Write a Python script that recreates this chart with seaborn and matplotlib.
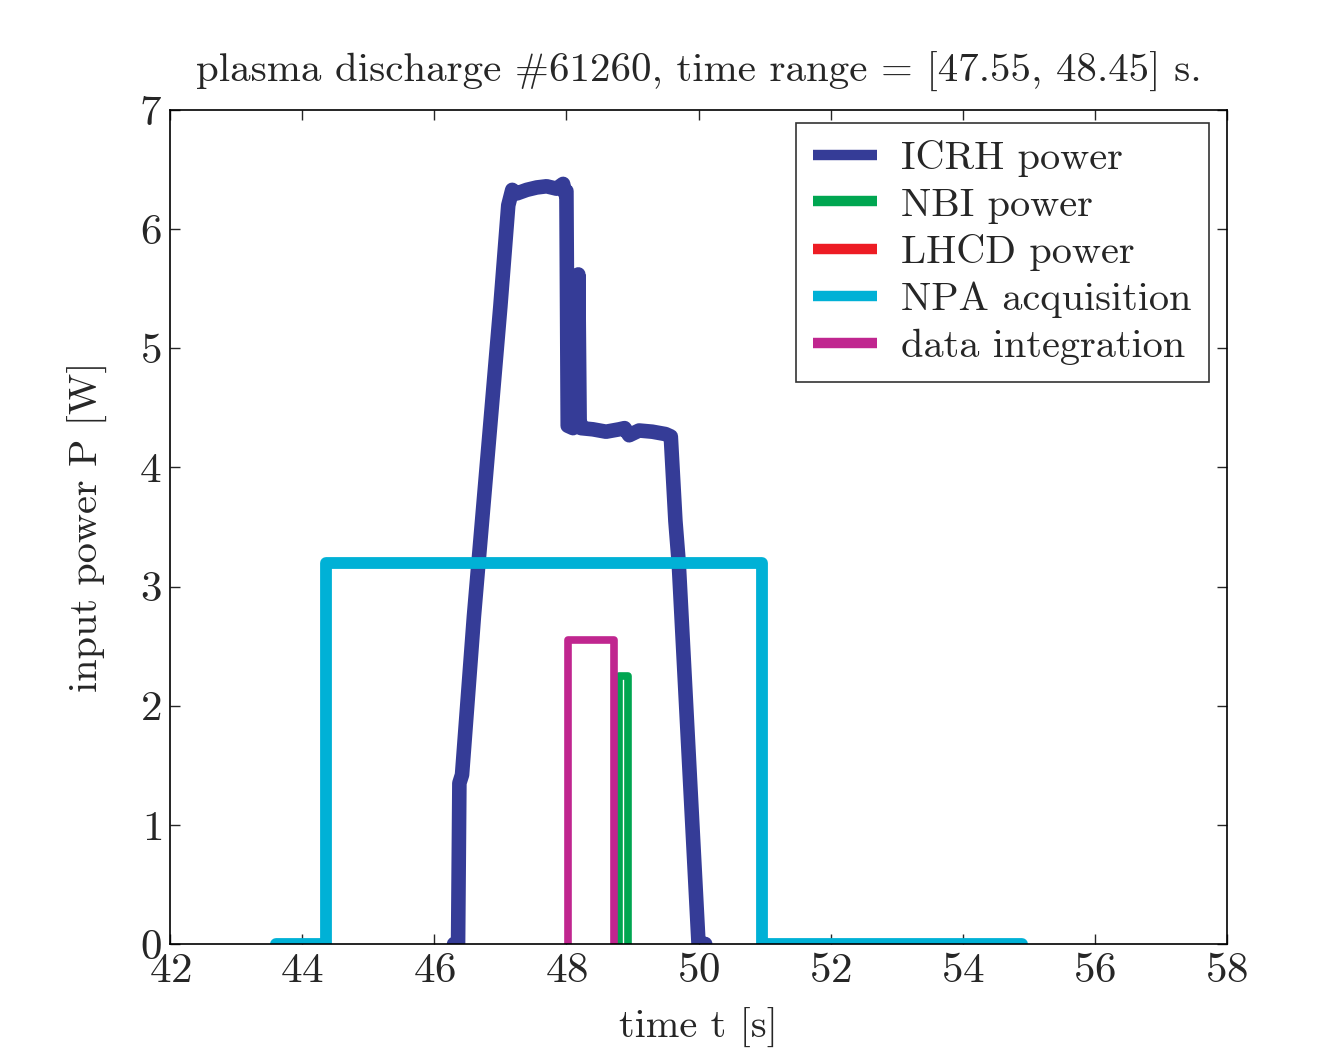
import numpy as np
import pandas as pd
import seaborn as sns
import matplotlib
matplotlib.use("Agg")
import matplotlib.pyplot as plt
from matplotlib.lines import Line2D

# values
icrh_t = [46.30, 46.36, 46.38, 46.42, 46.60, 46.80, 47.00, 47.12, 47.18, 47.25, 47.40,
          47.55, 47.70, 47.85, 47.95, 47.98, 48.00, 48.02, 48.10, 48.16, 48.18, 48.20,
          48.22, 48.40, 48.60, 48.80, 48.88, 48.95, 49.10, 49.30, 49.50, 49.58, 49.65,
          49.70, 50.00, 50.10]
icrh_p = [0.00, 0.00, 1.35, 1.42, 2.75, 4.05, 5.35, 6.20, 6.33, 6.30, 6.33,
          6.35, 6.36, 6.34, 6.38, 6.30, 6.32, 4.35, 4.33, 4.35, 5.62, 4.40,
          4.33, 4.32, 4.30, 4.32, 4.33, 4.27, 4.31, 4.30, 4.28, 4.26, 3.55,
          3.20, 0.00, 0.00]

nbi_t = [48.80, 48.80, 48.93, 48.93]
nbi_p = [0.00, 2.25, 2.25, 0.00]

npa_t = [43.60, 44.36, 44.36, 50.96, 50.96, 54.90]
npa_p = [0.00, 0.00, 3.20, 3.20, 0.00, 0.00]

integ_t = [48.03, 48.03, 48.72, 48.72]
integ_p = [0.00, 2.55, 2.55, 0.00]

labels = ["ICRH power", "NBI power", "LHCD power", "NPA acquisition", "data integration"]
colors = ["#353c97", "#00a651", "#ed1c24", "#00b1d6", "#c0268f"]

sns.set_style("ticks")
plt.rcParams["font.family"] = "serif"
plt.rcParams["font.serif"] = ["cmr10", "DejaVu Serif"]
plt.rcParams["mathtext.fontset"] = "cm"
plt.rcParams["axes.formatter.use_mathtext"] = True
plt.rcParams["axes.unicode_minus"] = False

fig = plt.figure(figsize=(13.18, 10.52), dpi=100)
ax = fig.add_axes([0.129, 0.1027, 0.802, 0.7927])

series = [
    (icrh_t, icrh_p, colors[0], 10.5),
    (nbi_t, nbi_p, colors[1], 5.5),
    (npa_t, npa_p, colors[3], 8.5),
    (integ_t, integ_p, colors[4], 5.5),
]
for t, p, c, lw in series:
    df = pd.DataFrame({"t": t, "p": p})
    sns.lineplot(data=df, x="t", y="p", sort=False, estimator=None, color=c,
                 linewidth=lw, ax=ax, legend=False,
                 solid_capstyle="round", solid_joinstyle="round")

ax.set_xlim(42, 58)
ax.set_ylim(0, 7)
ax.set_xticks(np.arange(42, 59, 2))
ax.set_yticks(np.arange(0, 8, 1))
ax.tick_params(direction="in", top=True, right=True, length=7, width=1,
               labelsize=31, pad=6)
for s in ax.spines.values():
    s.set_linewidth(1.2)
    s.set_color("black")

ax.set_xlabel("time t [s]", fontsize=29, labelpad=13)
ax.set_ylabel("input power P [W]", fontsize=29, labelpad=22)
ax.set_title("plasma discharge #61260, time range = [47.55, 48.45] s.",
             fontsize=29.5, pad=20)

handles = [Line2D([0], [0], color=c, linewidth=7.5, solid_capstyle="butt")
           for c in colors]
leg = ax.legend(handles, labels, loc="upper right", fontsize=29,
                frameon=True, fancybox=False, edgecolor="black",
                handlelength=1.6, handletextpad=0.6, labelspacing=0.26,
                borderpad=0.42, borderaxespad=0, bbox_to_anchor=(0.9825, 0.9845))
leg.get_frame().set_linewidth(1.2)

fig.savefig("out.png", dpi=100)
